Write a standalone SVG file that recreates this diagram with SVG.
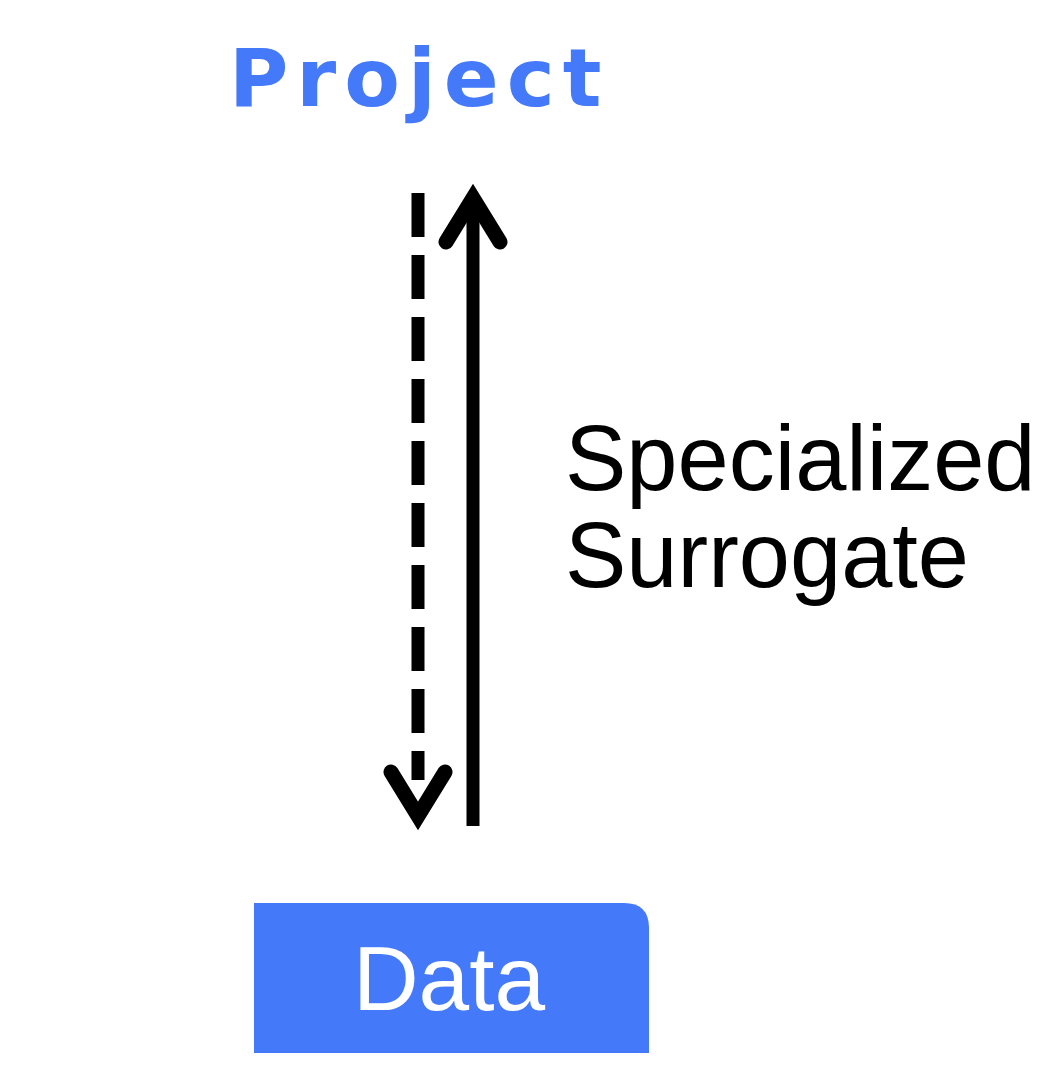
<svg xmlns="http://www.w3.org/2000/svg" width="1062" height="1082" viewBox="0 0 1062 1082">
<style>
.title{font-family:"DejaVu Sans","Liberation Sans",sans-serif;font-weight:bold;font-size:81px;fill:#4479FA;letter-spacing:8px}
.lbl{font-family:"Liberation Sans",Arial,sans-serif;font-size:92px;fill:#000}
.dlbl{font-family:"Liberation Sans",Arial,sans-serif;font-size:91px;fill:#fff}
.ln{stroke:#000;fill:none;stroke-width:13}
.head{stroke:#000;fill:none;stroke-width:15;stroke-linecap:round;stroke-linejoin:miter}
</style>
<rect width="1062" height="1082" fill="#fff"/>
<g id="project">
<text class="title" x="229" y="106">Project</text>
</g>
<g id="data">
<path d="M254 903 H624 Q649 903 649 928 V1053 H254 Z" fill="#4479FA"/>
<text class="dlbl" x="449" y="1010" text-anchor="middle">Data</text>
</g>
<g id="connectors">
<line class="ln" x1="418" y1="193" x2="418" y2="780" stroke-dasharray="44 18"/>
<polyline class="head" points="391,772 418,816 445,772"/>
<line class="ln" x1="473" y1="206" x2="473" y2="826"/>
<polyline class="head" points="446,242 473,198 500,242"/>
</g>
<g id="label">
<text class="lbl" x="565" y="490">Specialized</text>
<text class="lbl" x="565" y="587">Surrogate</text>
</g>
</svg>
